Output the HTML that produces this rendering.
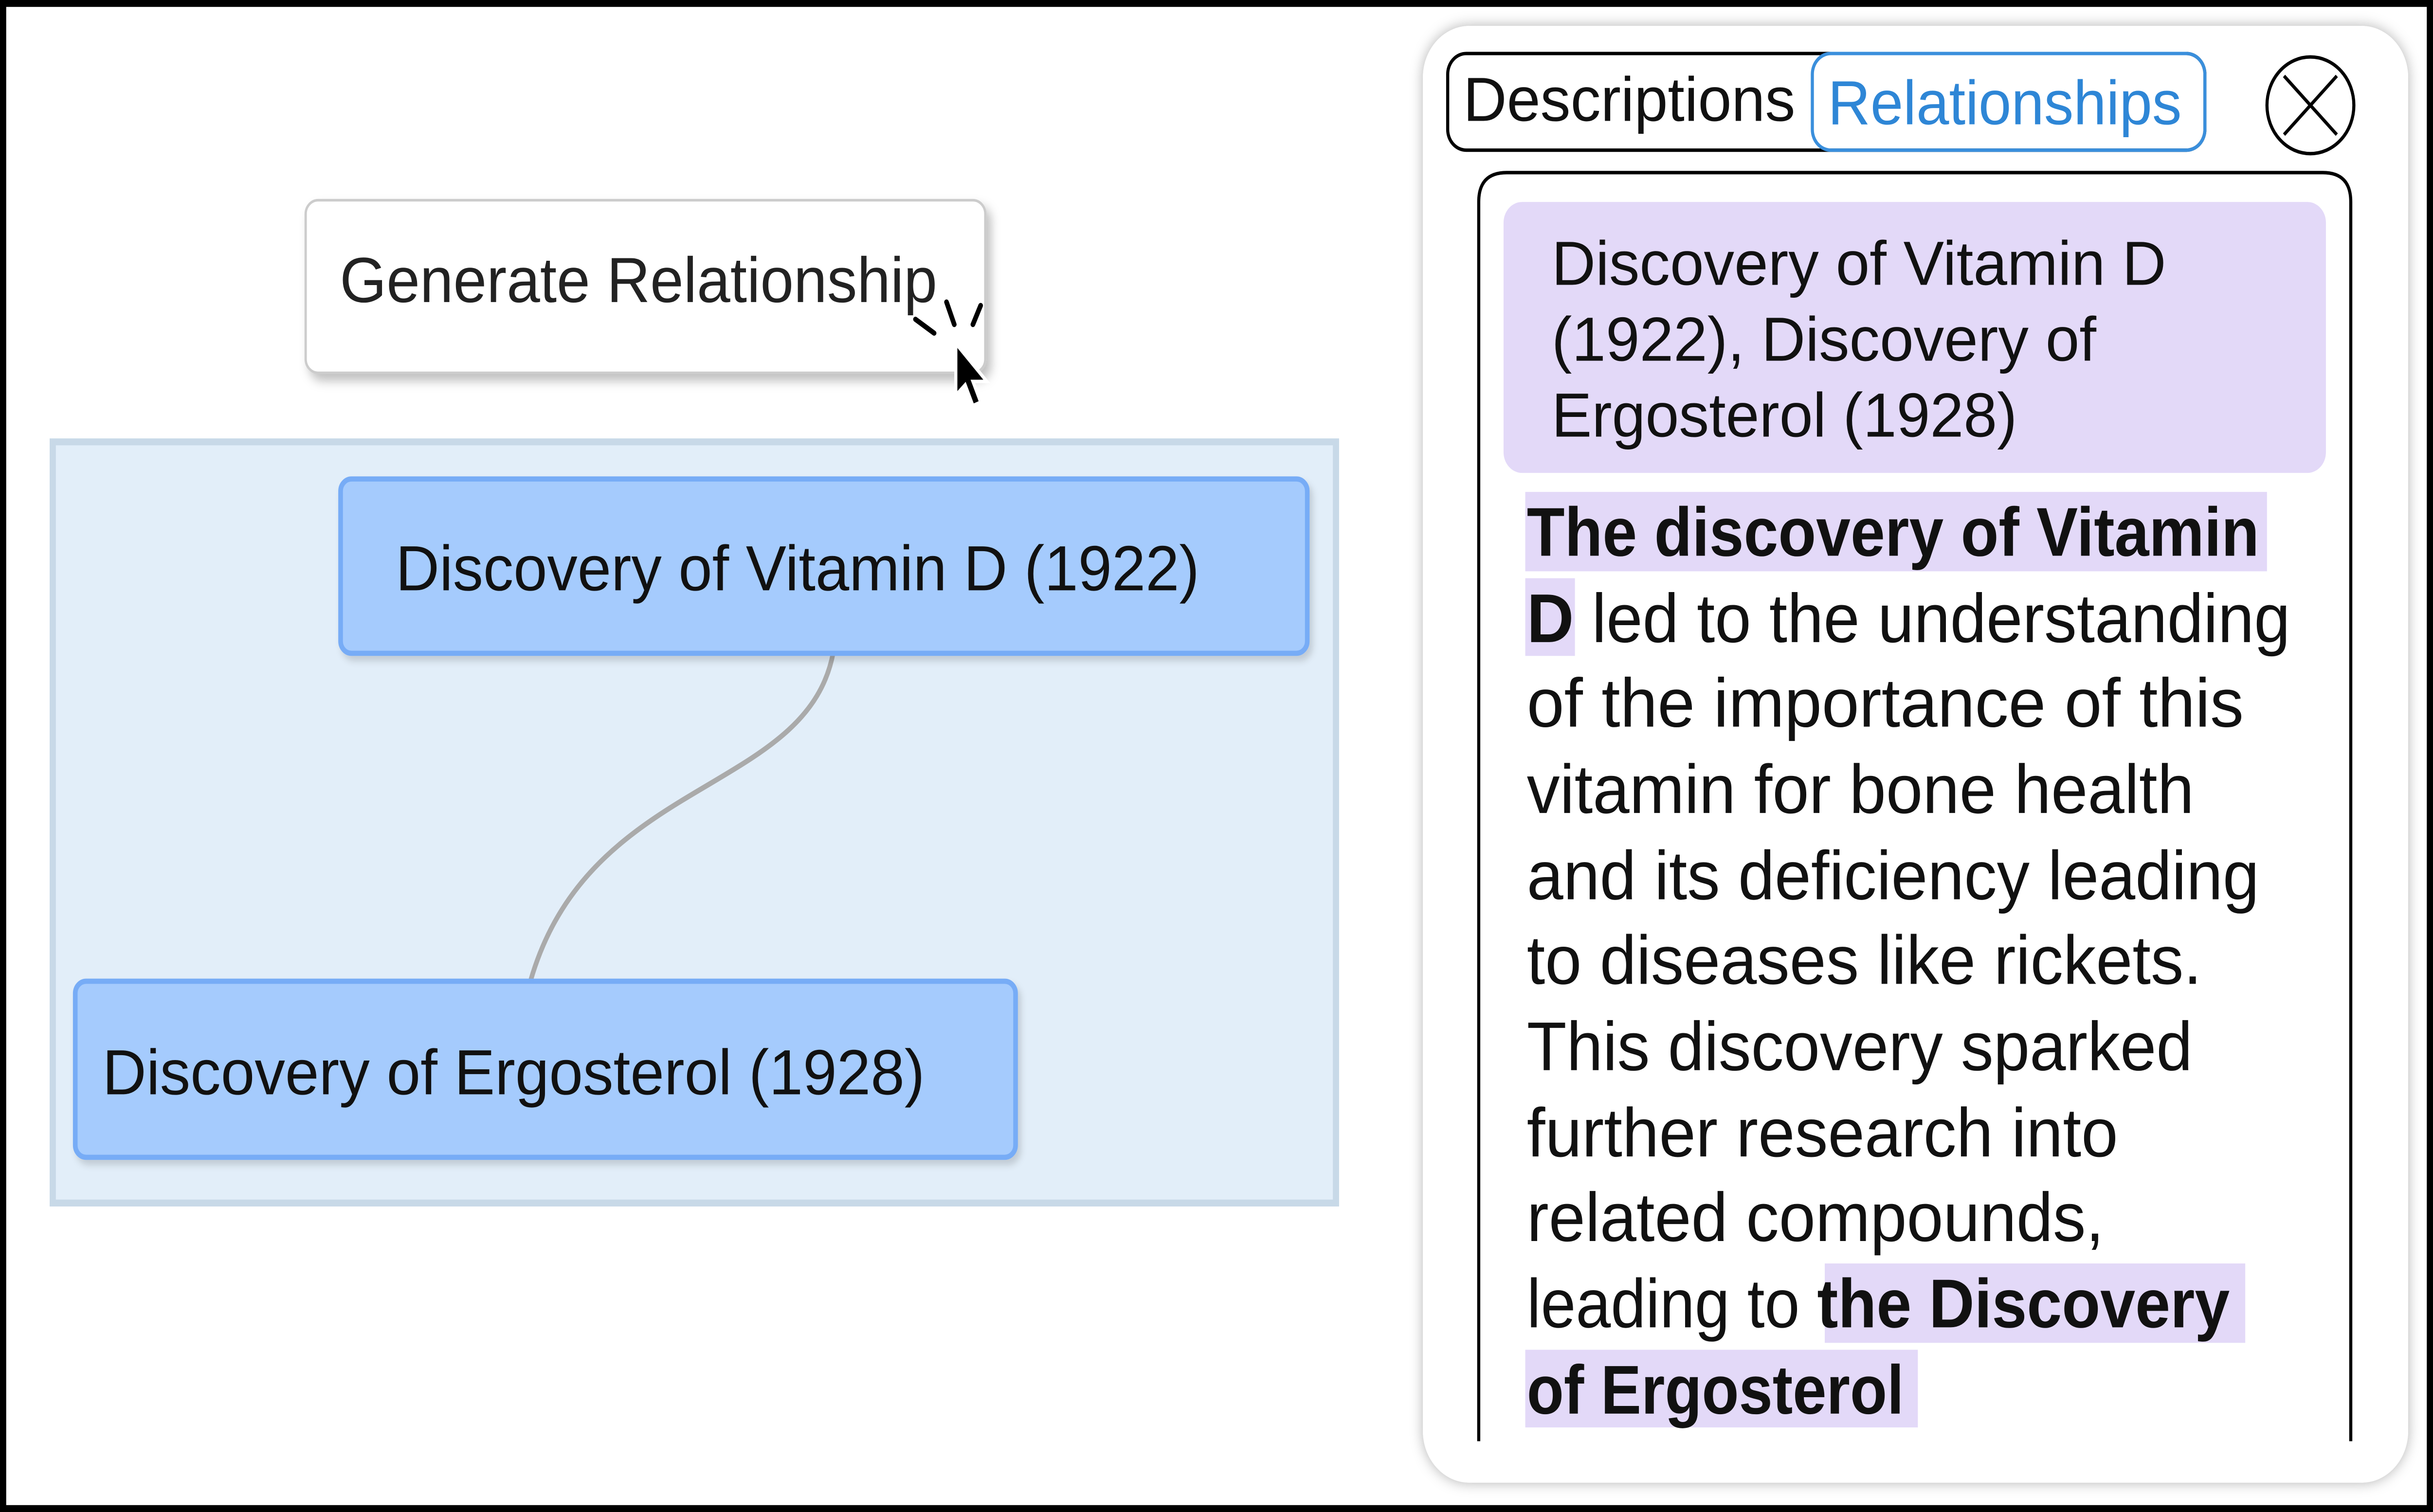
<!DOCTYPE html>
<html><head><meta charset="utf-8"><style>
html,body{margin:0;padding:0;background:#fff;overflow:hidden;width:100%;height:100%;}
svg{display:block;width:100vw;height:100vh;}
text{font-family:"Liberation Sans",sans-serif;fill:#111;}
</style></head><body>
<svg viewBox="0 0 1568 876" preserveAspectRatio="none" xmlns="http://www.w3.org/2000/svg">
<defs>
<filter id="sh" x="-10%" y="-10%" width="130%" height="140%"><feDropShadow dx="3" dy="4" stdDeviation="3" flood-opacity="0.25"/></filter>
<filter id="sh2" x="-10%" y="-10%" width="120%" height="120%"><feDropShadow dx="0" dy="0" stdDeviation="4" flood-opacity="0.3"/></filter>
<filter id="sh3" x="-10%" y="-10%" width="130%" height="140%"><feDropShadow dx="2" dy="3" stdDeviation="2" flood-opacity="0.15"/></filter>
</defs>
<rect width="1568" height="876" fill="#fff"/>

<g>
<rect x="197" y="116" width="438" height="100" rx="8" fill="#fff" stroke="#ccc" stroke-width="1.5" filter="url(#sh)"/>
<text x="219" y="175" font-size="37" style="fill:#222" textLength="385" lengthAdjust="spacingAndGlyphs">Generate Relationship</text>
</g>
<g transform="translate(580,165)">
<g stroke="#000" stroke-width="3" stroke-linecap="round">
<line x1="30" y1="10" x2="35" y2="23"/><line x1="52" y1="12" x2="47" y2="23"/><line x1="10" y1="20" x2="22" y2="28"/></g>
<path d="M36 34 L36 64 L42 58 L47 70 L52 68 L47 56 L56 56 Z" fill="#000" stroke="#fff" stroke-width="2"/>
</g>

<rect x="34" y="256" width="827" height="441" fill="#e2eef9" stroke="#c8d9e8" stroke-width="4"/>
<path d="M537 378 C520 460 380 450 342 568" fill="none" stroke="#aaa" stroke-width="3"/>
<g>
<rect x="219.5" y="277.5" width="623" height="101" rx="7" fill="#a5cbfd" stroke="#77acf6" stroke-width="3" filter="url(#sh3)"/>
<text x="255" y="342" font-size="37" textLength="518" lengthAdjust="spacingAndGlyphs">Discovery of Vitamin D (1922)</text>
</g>
<g>
<rect x="48.5" y="568.5" width="606" height="102" rx="7" fill="#a5cbfd" stroke="#77acf6" stroke-width="3" filter="url(#sh3)"/>
<text x="66" y="634" font-size="37" textLength="530" lengthAdjust="spacingAndGlyphs">Discovery of Ergosterol (1928)</text>
</g>

<rect x="917" y="15" width="635" height="844" rx="30" fill="#fff" filter="url(#sh2)"/>
<rect x="933" y="31" width="488" height="56" rx="12" fill="none" stroke="#000" stroke-width="2"/>
<text x="943" y="70" font-size="36" textLength="214" lengthAdjust="spacingAndGlyphs">Descriptions</text>
<g>
<rect x="1168" y="31" width="253" height="56" rx="12" fill="none" stroke="#3a8fdc" stroke-width="2"/>
<text x="1178" y="72" font-size="36" style="fill:#2e86d6" textLength="228" lengthAdjust="spacingAndGlyphs">Relationships</text>
</g>
<g>
<circle cx="1489" cy="61" r="28" fill="#fff" stroke="#000" stroke-width="2"/>
<line x1="1472" y1="44" x2="1506" y2="78" stroke="#000" stroke-width="2"/><line x1="1506" y1="44" x2="1472" y2="78" stroke="#000" stroke-width="2"/>
</g>

<path d="M953 835 L953 117 Q953 100 971 100 L1497 100 Q1515 100 1515 117 L1515 835" fill="none" stroke="#000" stroke-width="2"/>
<g>
<rect x="969" y="117" width="530" height="157" rx="12" fill="#e3d9f8"/>
<text x="1000" y="165" font-size="36" textLength="396" lengthAdjust="spacingAndGlyphs">Discovery of Vitamin D</text>
<text x="1000" y="209" font-size="36" textLength="351" lengthAdjust="spacingAndGlyphs">(1922), Discovery of</text>
<text x="1000" y="253" font-size="36" textLength="300" lengthAdjust="spacingAndGlyphs">Ergosterol (1928)</text>
</g>

<g font-size="40">
<rect x="983" y="285" width="478" height="46" fill="#e3d9f8"/>
<rect x="983" y="335" width="32" height="45" fill="#e3d9f8"/>
<rect x="1176" y="732" width="271" height="46" fill="#e3d9f8"/>
<rect x="983" y="782" width="253" height="45" fill="#e3d9f8"/>
<text x="984" y="322" font-weight="bold" textLength="472" lengthAdjust="spacingAndGlyphs">The discovery of Vitamin</text>
<text x="984" y="372" textLength="492" lengthAdjust="spacingAndGlyphs"><tspan font-weight="bold">D</tspan> led to the understanding</text>
<text x="984" y="421" textLength="462" lengthAdjust="spacingAndGlyphs">of the importance of this</text>
<text x="984" y="471" textLength="430" lengthAdjust="spacingAndGlyphs">vitamin for bone health</text>
<text x="984" y="521" textLength="472" lengthAdjust="spacingAndGlyphs">and its deficiency leading</text>
<text x="984" y="570" textLength="435" lengthAdjust="spacingAndGlyphs">to diseases like rickets.</text>
<text x="984" y="620" textLength="429" lengthAdjust="spacingAndGlyphs">This discovery sparked</text>
<text x="984" y="670" textLength="381" lengthAdjust="spacingAndGlyphs">further research into</text>
<text x="984" y="719" textLength="372" lengthAdjust="spacingAndGlyphs">related compounds,</text>
<text x="984" y="769" textLength="453" lengthAdjust="spacingAndGlyphs">leading to <tspan font-weight="bold">the Discovery</tspan></text>
<text x="984" y="819" font-weight="bold" textLength="243" lengthAdjust="spacingAndGlyphs">of Ergosterol</text>
</g>
<rect x="2" y="2" width="1564" height="872" fill="none" stroke="#000" stroke-width="4"/>
</svg>
</body></html>
